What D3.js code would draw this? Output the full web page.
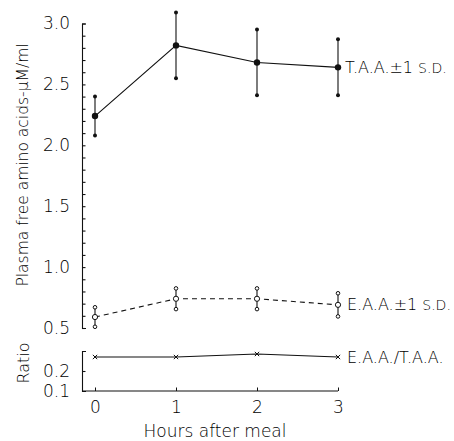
<!DOCTYPE html>
<html>
<head>
<meta charset="utf-8">
<script src="https://cdn.jsdelivr.net/npm/d3@7"></script>
<style>
  body { margin: 0; background: #fff; }
  text { font-family: "DejaVu Sans", "Liberation Sans", sans-serif; font-weight: 200; fill: #000; }
</style>
</head>
<body>
<svg id="chart" width="454" height="441"></svg>
<script>
// data
const hours = [0, 1, 2, 3];
const taaMean = [2.24, 2.82, 2.68, 2.64];
const taaSD = [0.16, 0.27, 0.27, 0.23];
const eaaMean = [0.59, 0.74, 0.74, 0.69];
const eaaSD = [0.08, 0.085, 0.085, 0.095];
const ratio = [0.27, 0.27, 0.285, 0.27];
const yTickLabels = [0.5, 1.0, 1.5, 2.0, 2.5, 3.0];
const ratioTickLabels = [0.1, 0.2];

const svg = d3.select("#chart");
const ink = "#111";

// scales
const x = d3.scaleLinear().domain([0, 3]).range([95, 338]);
const y = d3.scaleLinear().domain([0.5, 3.0]).range([328, 23.5]);
const yr = d3.scaleLinear().domain([0.1, 0.3]).range([391, 351]);
const axisX = 82;

// main y axis: major ticks labelled, minor every 0.1
const minor = d3.range(0.5, 3.001, 0.1);
svg.append("g")
  .attr("transform", `translate(${axisX},0)`)
  .call(d3.axisLeft(y).tickValues(minor).tickSize(-3.5).tickSizeOuter(-4).tickFormat(""))
  .call(g => g.selectAll("line,path").attr("stroke", ink).attr("stroke-width", 1.1));

svg.append("g")
  .attr("transform", `translate(${axisX},0)`)
  .call(d3.axisLeft(y).tickValues(yTickLabels).tickSize(0).tickPadding(12).tickFormat(d3.format(".1f")))
  .call(g => {
    g.select(".domain").remove();
    g.selectAll("text").attr("font-size", 17).attr("fill", "#000").style("font-family", null);
  });

// ratio axis
svg.append("g")
  .attr("transform", `translate(${axisX},0)`)
  .call(d3.axisLeft(yr).tickValues([0.2]).tickSize(-3.5).tickSizeOuter(-4).tickFormat(""))
  .call(g => g.selectAll("line,path").attr("stroke", ink).attr("stroke-width", 1.1));

svg.append("g")
  .attr("transform", `translate(${axisX},0)`)
  .call(d3.axisLeft(yr).tickValues(ratioTickLabels).tickSize(0).tickPadding(12).tickFormat(d3.format(".1f")))
  .call(g => {
    g.select(".domain").remove();
    g.selectAll("text").attr("font-size", 17).attr("fill", "#000").style("font-family", null);
  });

// x axis along the bottom of the ratio panel
svg.append("line")
  .attr("x1", axisX).attr("x2", x(3))
  .attr("y1", yr(0.1)).attr("y2", yr(0.1))
  .attr("stroke", ink).attr("stroke-width", 1.1);

svg.append("g")
  .attr("transform", `translate(0,${yr(0.1)})`)
  .call(d3.axisBottom(x).tickValues(hours).tickSize(-3.5).tickSizeOuter(0).tickPadding(10).tickFormat(d3.format("d")))
  .call(g => {
    g.select(".domain").remove();
    g.selectAll("line").attr("stroke", ink);
    g.selectAll("text").attr("font-size", 17).attr("fill", "#000").style("font-family", null);
  });

// T.A.A. series
const taa = hours.map((h, i) => ({ h, m: taaMean[i], sd: taaSD[i] }));
const eaa = hours.map((h, i) => ({ h, m: eaaMean[i], sd: eaaSD[i] }));
const rat = hours.map((h, i) => ({ h, v: ratio[i] }));

svg.append("path")
  .datum(taa)
  .attr("fill", "none").attr("stroke", ink).attr("stroke-width", 1.1)
  .attr("d", d3.line().x(d => x(d.h)).y(d => y(d.m)));

svg.selectAll(".taa-err").data(taa).join("line")
  .attr("x1", d => x(d.h)).attr("x2", d => x(d.h))
  .attr("y1", d => y(d.m + d.sd)).attr("y2", d => y(d.m - d.sd))
  .attr("stroke", ink).attr("stroke-width", 1.1);

svg.selectAll(".taa-cap").data(taa.flatMap(d => [d.m + d.sd, d.m - d.sd].map(v => ({ h: d.h, v })))).join("circle")
  .attr("cx", d => x(d.h)).attr("cy", d => y(d.v)).attr("r", 2).attr("fill", ink);

svg.selectAll(".taa-pt").data(taa).join("circle")
  .attr("cx", d => x(d.h)).attr("cy", d => y(d.m)).attr("r", 3.2).attr("fill", ink);

// E.A.A. series, dashed with open symbols
svg.append("path")
  .datum(eaa)
  .attr("fill", "none").attr("stroke", ink).attr("stroke-width", 1.1)
  .attr("stroke-dasharray", "5,4")
  .attr("d", d3.line().x(d => x(d.h)).y(d => y(d.m)));

svg.selectAll(".eaa-err").data(eaa).join("line")
  .attr("x1", d => x(d.h)).attr("x2", d => x(d.h))
  .attr("y1", d => y(d.m + d.sd)).attr("y2", d => y(d.m - d.sd))
  .attr("stroke", ink).attr("stroke-width", 1.1);

svg.selectAll(".eaa-cap").data(eaa.flatMap(d => [d.m + d.sd, d.m - d.sd].map(v => ({ h: d.h, v })))).join("circle")
  .attr("cx", d => x(d.h)).attr("cy", d => y(d.v)).attr("r", 1.8)
  .attr("fill", "#fff").attr("stroke", ink).attr("stroke-width", 1);

svg.selectAll(".eaa-pt").data(eaa).join("circle")
  .attr("cx", d => x(d.h)).attr("cy", d => y(d.m)).attr("r", 2.6)
  .attr("fill", "#fff").attr("stroke", ink).attr("stroke-width", 1);

// ratio series
svg.append("path")
  .datum(rat)
  .attr("fill", "none").attr("stroke", ink).attr("stroke-width", 1.1)
  .attr("d", d3.line().x(d => x(d.h)).y(d => yr(d.v)));

svg.selectAll(".rat-pt").data(rat).join("path")
  .attr("transform", d => `translate(${x(d.h)},${yr(d.v)})`)
  .attr("d", d3.symbol(d3.symbolX, 14))
  .attr("fill", "none").attr("stroke", ink).attr("stroke-width", 1);

// series labels
function seriesLabel(px, py, big, small) {
  const t = svg.append("text").attr("x", px).attr("y", py).attr("dy", "0.35em");
  t.append("tspan").attr("font-size", 16).text(big);
  if (small) t.append("tspan").attr("font-size", 14).attr("dx", 5).text(small);
}
seriesLabel(x(3) + 7, y(taaMean[3]), "T.A.A.±1", "S.D.");
seriesLabel(x(3) + 9, y(eaaMean[3]), "E.A.A.±1", "S.D.");
seriesLabel(x(3) + 9, yr(ratio[3]), "E.A.A./T.A.A.");

// axis titles
svg.append("text")
  .attr("transform", "translate(23,165) rotate(-90)")
  .attr("text-anchor", "middle").attr("dy", "0.35em")
  .attr("font-size", 15.5)
  .text("Plasma free amino acids-μM/ml");

svg.append("text")
  .attr("transform", `translate(23,${yr(0.2) - 8}) rotate(-90)`)
  .attr("text-anchor", "middle").attr("dy", "0.35em")
  .attr("font-size", 16)
  .text("Ratio");

svg.append("text")
  .attr("x", 215).attr("y", 431).attr("dy", "0.35em")
  .attr("text-anchor", "middle").attr("font-size", 17)
  .text("Hours after meal");
</script>
</body>
</html>
